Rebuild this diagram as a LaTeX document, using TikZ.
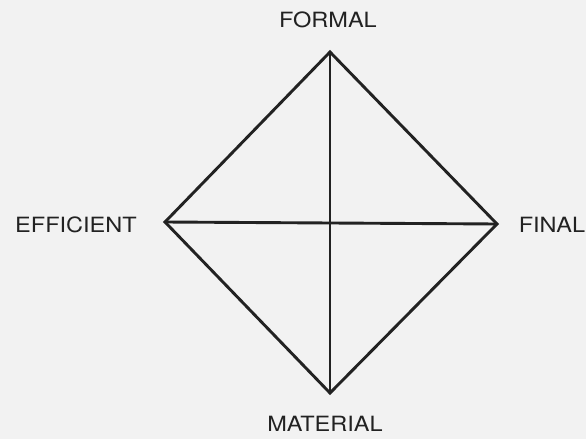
\documentclass[tikz,border=0pt]{standalone}
\usepackage{fontspec}
\setmainfont{TeX Gyre Heros}
\usetikzlibrary{positioning, calc}
\definecolor{paper}{HTML}{F2F2F2}
\definecolor{ink}{HTML}{222222}

\begin{document}
\begin{tikzpicture}[
    x=1pt, y=-1pt,
    edge/.style ={draw=ink, line width=2.9pt, line join=miter},
    cause/.style={text=ink, inner sep=0pt, xscale=1.12,
                  font=\fontsize{21}{21}\selectfont},
]
% page
\fill[paper] (0,0) rectangle (586,439);
\useasboundingbox (0,0) rectangle (586,439);
% corners of the square
\coordinate (top)   at (330,52);
\coordinate (bot)   at (330,393);
\coordinate (left)  at (165,222);
\coordinate (right) at (497,224);
% the four causes
\node[cause] (formal)    at (328,20)  {FORMAL};
\node[cause] (efficient) at (76,225)  {EFFICIENT};
\node[cause] (final)     at (552,225) {FINAL};
\node[cause] (material)  at (325,424) {MATERIAL};
% outline and cross
\draw[edge] (top) -- (right) -- (bot) -- (left) -- cycle;
\draw[edge] (top) -- (bot);
\draw[edge] (left) -- (right);
\end{tikzpicture}
\end{document}
